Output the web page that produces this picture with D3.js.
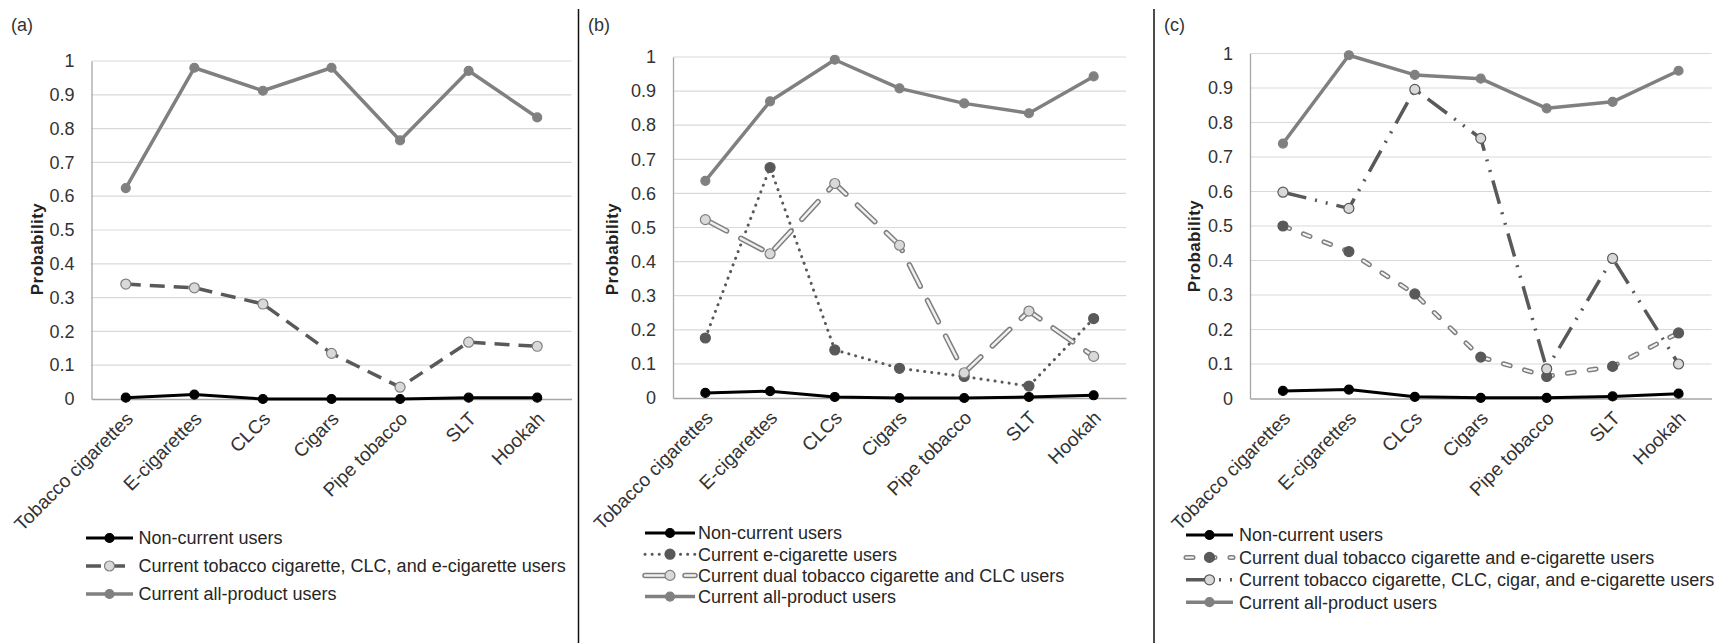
<!DOCTYPE html>
<html>
<head>
<meta charset="utf-8">
<script src="https://cdn.jsdelivr.net/npm/d3@7/dist/d3.min.js"></script>
<style>
  body { margin: 0; background: #fff; }
  svg { display: block; font-family: "Liberation Sans", Arial, sans-serif; }
</style>
</head>
<body>
<script>
//categories and ticks
var categories = ["Tobacco cigarettes", "E-cigarettes", "CLCs", "Cigars", "Pipe tobacco", "SLT", "Hookah"];
var yTicks = [0, 0.1, 0.2, 0.3, 0.4, 0.5, 0.6, 0.7, 0.8, 0.9, 1];
var yTickLabels = ["0", "0.1", "0.2", "0.3", "0.4", "0.5", "0.6", "0.7", "0.8", "0.9", "1"];
var panelLabels = ["(a)", "(b)", "(c)"];

//panel (a) values
var aNonCurrent = [0.004, 0.013, 0.0, 0.0, 0.0, 0.004, 0.004];
var aTobClcEcig = [0.340, 0.329, 0.281, 0.135, 0.035, 0.168, 0.156];
var aAllProduct = [0.624, 0.980, 0.912, 0.980, 0.765, 0.971, 0.833];

//panel (b) values
var bNonCurrent = [0.015, 0.020, 0.003, 0.0, 0.0, 0.003, 0.008];
var bEcig = [0.176, 0.676, 0.141, 0.087, 0.063, 0.035, 0.233];
var bDualTobClc = [0.523, 0.423, 0.629, 0.448, 0.074, 0.255, 0.122];
var bAllProduct = [0.637, 0.870, 0.992, 0.908, 0.864, 0.835, 0.943];

//panel (c) values
var cNonCurrent = [0.022, 0.026, 0.005, 0.002, 0.002, 0.006, 0.014];
var cDualTobEcig = [0.500, 0.426, 0.303, 0.120, 0.064, 0.093, 0.190];
var cFourProduct = [0.598, 0.551, 0.896, 0.754, 0.086, 0.406, 0.100];
var cAllProduct = [0.739, 0.995, 0.938, 0.927, 0.841, 0.860, 0.950];

//legend names
var aNames = ["Non-current users", "Current tobacco cigarette, CLC, and e-cigarette users", "Current all-product users"];
var bNames = ["Non-current users", "Current e-cigarette users", "Current dual tobacco cigarette and CLC users", "Current all-product users"];
var cNames = ["Non-current users", "Current dual tobacco cigarette and e-cigarette users", "Current tobacco cigarette, CLC, cigar, and e-cigarette users", "Current all-product users"];

//line styles
var styles = {
    solidBlack: { color: "#000", width: 3, marker: { fill: "#000", stroke: "#000", r: 4.5 } },
    solidGray: { color: "#808080", width: 3.5, marker: { fill: "#808080", stroke: "#808080", r: 4.5 } },
    dashed: { color: "#595959", width: 3.5, dash: "15,9", marker: { fill: "#d9d9d9", stroke: "#7f7f7f", r: 5 } },
    dotted: { color: "#595959", width: 3, dash: "0.1,7", cap: "round", marker: { fill: "#595959", stroke: "#595959", r: 5 } },
    doubleLong: { color: "#7f7f7f", width: 5.5, inner: "#f0f0f0", innerWidth: 2.5, dash: "24,16", cap: "round", marker: { fill: "#d9d9d9", stroke: "#7f7f7f", r: 5 } },
    doubleShort: { color: "#7f7f7f", width: 5, inner: "#f4f4f4", innerWidth: 2, dash: "7,15", cap: "round", marker: { fill: "#595959", stroke: "#595959", r: 5 } },
    dashDotDot: { color: "#595959", width: 3.5, dash: "24,9,2,9,2,9", marker: { fill: "#d9d9d9", stroke: "#595959", r: 5 } }
};

var panels = [
    { label: panelLabels[0], names: aNames, values: [aNonCurrent, aTobClcEcig, aAllProduct],
      kinds: ["solidBlack", "dashed", "solidGray"],
      x0: 91.5, x1: 571.5, y0: 399, y1: 61, labelX: 11, ylabX: 37, ylabY: 249,
      legX: 86, legW: 47, legTextX: 138.5, legY: 538, legStep: 28 },
    { label: panelLabels[1], names: bNames, values: [bNonCurrent, bEcig, bDualTobClc, bAllProduct],
      kinds: ["solidBlack", "dotted", "doubleLong", "solidGray"],
      x0: 673, x1: 1126, y0: 398, y1: 57, labelX: 588, ylabX: 612, ylabY: 249,
      legX: 645, legW: 50, legTextX: 698, legY: 533, legStep: 21.2 },
    { label: panelLabels[2], names: cNames, values: [cNonCurrent, cDualTobEcig, cFourProduct, cAllProduct],
      kinds: ["solidBlack", "doubleShort", "dashDotDot", "solidGray"],
      x0: 1250, x1: 1711.5, y0: 398.5, y1: 53.5, labelX: 1164, ylabX: 1194, ylabY: 246,
      legX: 1186, legW: 47, legTextX: 1239, legY: 535, legStep: 22.4 }
];

var svg = d3.select("body").append("svg")
    .attr("width", 1719)
    .attr("height", 643);

//panel dividers
[578.5, 1154].forEach(function(x) {
    svg.append("line")
        .attr("x1", x).attr("x2", x)
        .attr("y1", 9).attr("y2", 643)
        .attr("stroke", "#111")
        .attr("stroke-width", 1.5);
});

function drawPath(g, pts, st) {
    var line = d3.line().x(function(d) { return d[0]; }).y(function(d) { return d[1]; });
    var p = g.append("path")
        .datum(pts)
        .attr("d", line)
        .attr("fill", "none")
        .attr("stroke", st.color)
        .attr("stroke-width", st.width)
        .attr("stroke-linejoin", "round")
        .attr("stroke-linecap", st.cap || "butt");
    if (st.dash) p.attr("stroke-dasharray", st.dash);
    if (st.inner) {
        g.append("path")
            .datum(pts)
            .attr("d", line)
            .attr("fill", "none")
            .attr("stroke", st.inner)
            .attr("stroke-width", st.innerWidth)
            .attr("stroke-linecap", st.cap || "butt")
            .attr("stroke-dasharray", st.dash);
    }
}

function drawMarkers(g, pts, st) {
    g.selectAll(null)
        .data(pts)
        .enter()
        .append("circle")
        .attr("cx", function(d) { return d[0]; })
        .attr("cy", function(d) { return d[1]; })
        .attr("r", st.marker.r)
        .attr("fill", st.marker.fill)
        .attr("stroke", st.marker.stroke)
        .attr("stroke-width", 1.2);
}

panels.forEach(function(p) {
    var g = svg.append("g");

    var x = d3.scalePoint()
        .domain(categories)
        .range([p.x0, p.x1])
        .padding(0.5);

    var y = d3.scaleLinear()
        .domain([0, 1])
        .range([p.y0, p.y1]);

    //gridlines
    g.selectAll(null)
        .data(yTicks.slice(1))
        .enter()
        .append("line")
        .attr("x1", p.x0).attr("x2", p.x1)
        .attr("y1", function(d) { return y(d); })
        .attr("y2", function(d) { return y(d); })
        .attr("stroke", "#d9d9d9")
        .attr("stroke-width", 1.2);

    //y axis labels
    var yAxis = g.append("g")
        .attr("transform", "translate(" + p.x0 + ",0)")
        .call(d3.axisLeft(y).tickValues(yTicks).tickSize(0).tickPadding(17)
            .tickFormat(function(d, i) { return yTickLabels[i]; }));
    yAxis.select(".domain").attr("stroke", "#a6a6a6").attr("stroke-width", 1.3);
    yAxis.selectAll("text")
        .attr("font-size", 18)
        .attr("fill", "#333")
        .attr("font-family", "Liberation Sans, Arial, sans-serif");

    //x axis
    var xAxis = g.append("g")
        .attr("transform", "translate(0," + p.y0 + ")")
        .call(d3.axisBottom(x).tickSize(0).tickPadding(0));
    xAxis.select(".domain").attr("stroke", "#a6a6a6").attr("stroke-width", 1.5);
    xAxis.selectAll("text")
        .attr("font-size", 19)
        .attr("fill", "#333")
        .attr("font-family", "Liberation Sans, Arial, sans-serif")
        .attr("text-anchor", "end")
        .attr("dy", 0)
        .attr("y", 0)
        .attr("transform", "translate(8,21) rotate(-45)");

    //panel label
    g.append("text")
        .attr("x", p.labelX).attr("y", 31)
        .attr("font-size", 18)
        .attr("fill", "#333")
        .text(p.label);

    //y title
    g.append("text")
        .attr("transform", "translate(" + p.ylabX + "," + p.ylabY + ") rotate(-90)")
        .attr("text-anchor", "middle")
        .attr("dy", "0.35em")
        .attr("font-size", 17)
        .attr("font-weight", "bold")
        .attr("letter-spacing", 0.4)
        .attr("fill", "#222")
        .text("Probability");

    //series
    p.values.forEach(function(vals, i) {
        var st = styles[p.kinds[i]];
        var pts = vals.map(function(v, j) { return [x(categories[j]), y(v)]; });
        var sg = g.append("g");
        drawPath(sg, pts, st);
        drawMarkers(sg, pts, st);
    });

    //legend
    p.names.forEach(function(name, i) {
        var st = styles[p.kinds[i]];
        var ly = p.legY + i * p.legStep;
        var lg = g.append("g");
        drawPath(lg, [[p.legX, ly], [p.legX + p.legW, ly]], st);
        drawMarkers(lg, [[p.legX + p.legW / 2, ly]], st);
        lg.append("text")
            .attr("x", p.legTextX).attr("y", ly)
            .attr("dy", "0.36em")
            .attr("font-size", 18)
            .attr("fill", "#262626")
            .text(name);
    });
});
</script>
</body>
</html>
